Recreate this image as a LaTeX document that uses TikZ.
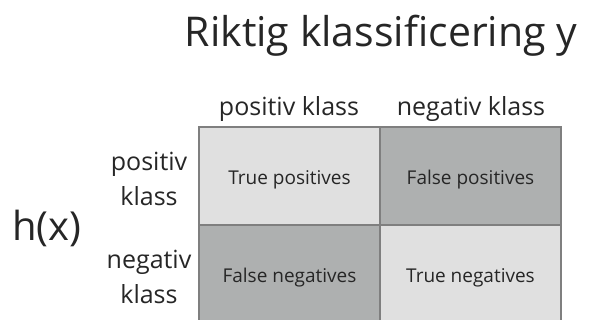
\documentclass[tikz,border=0pt]{standalone}
\usepackage{fontspec}
\setmainfont{Open Sans}
\usepackage{tikz}

\definecolor{cellLight}{HTML}{E0E0E0}
\definecolor{cellDark}{HTML}{AEB0B0}
\definecolor{gridLine}{HTML}{7F7F7F}
\definecolor{txt}{HTML}{262626}

\begin{document}
\begin{tikzpicture}[x=1pt, y=-1pt, text=txt,
    cell/.style={draw=gridLine, line width=1.5pt, minimum width=181pt, minimum height=98pt, inner sep=0pt, text height=18pt, text depth=0pt, font=\fontsize{19}{22}\selectfont},
    head/.style={font=\fontsize{25}{35}\selectfont, align=center, inner sep=0pt}]
  \useasboundingbox (0,0) rectangle (589,320);
  \begin{scope}
    \clip (0,0) rectangle (589,320);
    \node[cell, fill=cellLight] (TP) at (289.5,176) {True positives};
    \node[cell, fill=cellDark] (FP) at (470.5,176) {False positives};
    \node[cell, fill=cellDark] (FN) at (289.5,274) {False negatives};
    \node[cell, fill=cellLight] (TN) at (470.5,274) {True negatives};
  \end{scope}
  \node[font=\fontsize{41}{50}\selectfont, inner sep=0pt] (title) at (381,36) {Riktig klassificering y};
  \node[head] (colP) at (289,109) {positiv klass};
  \node[head] (colN) at (471,109) {negativ klass};
  \node[head] (rowP) at (149,179) {positiv\\klass};
  \node[head] (rowN) at (149,277) {negativ\\klass};
  \node[font=\fontsize{40}{50}\selectfont, inner sep=0pt] (hx) at (47,228) {h(x)};
\end{tikzpicture}
\end{document}
